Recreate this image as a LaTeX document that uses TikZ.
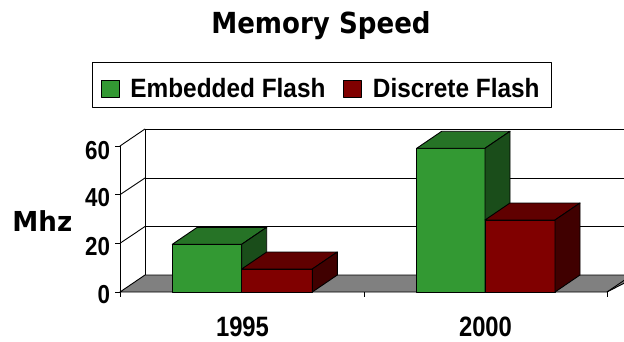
\documentclass[tikz,border=0pt]{standalone}
\usepackage{fontspec}
\setmainfont{Liberation Sans}
\newfontfamily\verdanalike{DejaVu Sans}
\definecolor{gfront}{RGB}{51,153,51}
\definecolor{gtop}{RGB}{38,115,38}
\definecolor{gside}{RGB}{26,77,26}
\definecolor{rfront}{RGB}{128,0,0}
\definecolor{rtop}{RGB}{96,0,0}
\definecolor{rside}{RGB}{64,0,0}
\definecolor{floorgray}{RGB}{128,128,128}
\newcommand{\drawbar}[6]{%
  \filldraw[fill=#4] (#1,292) rectangle (#2,#3);
  \filldraw[fill=#5] (#1,#3) -- ({#1+25},{#3-17}) -- ({#2+25},{#3-17}) -- (#2,#3) -- cycle;
  \filldraw[fill=#6] (#2,292) -- (#2,#3) -- ({#2+25},{#3-17}) -- ({#2+25},275) -- cycle;
}
\tikzset{
  ticklbl/.style={font=\fontsize{26}{30}\selectfont\bfseries, xscale=0.86, anchor=base east, inner sep=0pt},
  catlbl/.style={font=\fontsize{28}{32}\selectfont\bfseries, xscale=0.85, anchor=base, inner sep=0pt},
  legtxt/.style={font=\fontsize{26.5}{30}\selectfont\bfseries, xscale=0.92, anchor=base west, inner sep=0pt},
  grid line/.style={line width=0.9pt},
}
\begin{document}
\begin{tikzpicture}[x=1pt,y=-1pt,line width=0.9pt,line join=round]
\useasboundingbox (0,0) rectangle (624,342);
\clip (0,0) rectangle (624,342);
% title
\node[font=\verdanalike\fontsize{29}{32}\selectfont\bfseries, xscale=0.9, anchor=base, inner sep=0pt] (title) at (321,33.3) {Memory Speed};
% legend
\draw[line width=1pt] (92,62.5) rectangle (551,107.5);
\filldraw[fill=gfront] (101.7,80) rectangle (119.5,97.5);
\filldraw[fill=rfront] (343,80) rectangle (361,97.5);
\node[legtxt] (leg1) at (130,97.5) {Embedded Flash};
\node[legtxt] (leg2) at (372.5,97.5) {Discrete Flash};
% back wall and grid
\draw[grid line] (145,129) -- (640,129);
\draw[grid line] (145,178) -- (640,178);
\draw[grid line] (145,226.5) -- (640,226.5);
\draw (145,129) -- (145,275);
\draw (120,146) -- (145,129);
\draw (120,194.7) -- (145,178);
\draw (120,243.3) -- (145,226.5);
% floor
\filldraw[fill=floorgray] (120,292) -- (145,275) -- (640,275) -- (607,292) -- cycle;
% front axis
\draw (120,146) -- (120,292);
\foreach \yy in {146,194.7,243.3,292} \draw (115,\yy) -- (120,\yy);
\foreach \xx in {120,364,607} \draw (\xx,292) -- (\xx,297);
\draw (607,292) -- (632,275);
% bars
\drawbar{172.3}{241.7}{244.3}{gfront}{gtop}{gside}
\drawbar{241.7}{312.3}{269}{rfront}{rtop}{rside}
\drawbar{416.7}{485}{148.3}{gfront}{gtop}{gside}
\drawbar{485}{555}{220}{rfront}{rtop}{rside}
% tick labels
\node[ticklbl] (t60) at (110.5,160) {60};
\node[ticklbl] (t40) at (110.5,207) {40};
\node[ticklbl] (t20) at (110.5,255) {20};
\node[ticklbl] (t0) at (110.5,303.5) {0};
% axis title
\node[font=\verdanalike\fontsize{27.5}{30}\selectfont\bfseries, xscale=0.95, anchor=base west, inner sep=0pt] (mhz) at (12,231.7) {Mhz};
% category labels
\node[catlbl] (c1995) at (242.5,336) {1995};
\node[catlbl] (c2000) at (485.5,336) {2000};
\end{tikzpicture}
\end{document}
